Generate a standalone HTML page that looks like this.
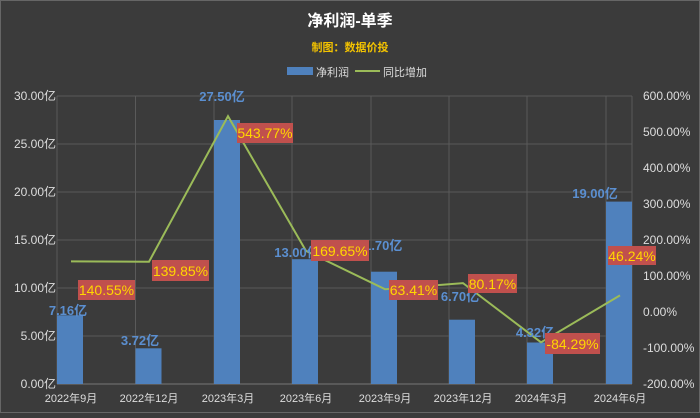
<!DOCTYPE html><html><head><meta charset="utf-8"><style>body{margin:0;background:#3b3b3b}</style></head><body>
<svg width="700" height="413" xmlns="http://www.w3.org/2000/svg" style="font-family:'Liberation Sans','Noto Sans CJK SC',sans-serif">
<rect x="0.5" y="0.5" width="699" height="412" fill="#3b3b3b" stroke="#666"/>
<text x="350" y="26" fill="#fff" font-size="16" font-weight="bold" text-anchor="middle">净利润-单季</text>
<text x="350" y="51" fill="#f2c200" font-size="11" font-weight="bold" text-anchor="middle">制图：数据价投</text>
<rect x="287" y="67" width="26" height="8" fill="#4f81bd"/><text x="316" y="76" fill="#ddd" font-size="11">净利润</text>
<line x1="355" y1="71" x2="380" y2="71" stroke="#9bbb59" stroke-width="2"/><text x="383" y="76" fill="#ddd" font-size="11">同比增加</text>
<g stroke="#5a5a5a" stroke-width="1">
<line x1="57" y1="96" x2="632" y2="96"/><line x1="57" y1="144" x2="632" y2="144"/><line x1="57" y1="192" x2="632" y2="192"/><line x1="57" y1="240" x2="632" y2="240"/><line x1="57" y1="288" x2="632" y2="288"/><line x1="57" y1="336" x2="632" y2="336"/>
<line x1="57" y1="96" x2="57" y2="384"/><line x1="135.5" y1="96" x2="135.5" y2="384"/><line x1="214" y1="96" x2="214" y2="384"/><line x1="292" y1="96" x2="292" y2="384"/><line x1="371" y1="96" x2="371" y2="384"/><line x1="449" y1="96" x2="449" y2="384"/><line x1="527" y1="96" x2="527" y2="384"/><line x1="606" y1="96" x2="606" y2="384"/><line x1="632" y1="96" x2="632" y2="384"/>
</g>
<line x1="57" y1="384" x2="632" y2="384" stroke="#777"/>
<g fill="#ddd" font-size="12" text-anchor="end">
<text x="56" y="100">30.00亿</text><text x="56" y="148">25.00亿</text><text x="56" y="196">20.00亿</text><text x="56" y="244">15.00亿</text><text x="56" y="292">10.00亿</text><text x="56" y="340">5.00亿</text><text x="56" y="388">0.00亿</text></g>
<g fill="#ddd" font-size="12">
<text x="643" y="100">600.00%</text><text x="643" y="136">500.00%</text><text x="643" y="172">400.00%</text><text x="643" y="208">300.00%</text><text x="643" y="244">200.00%</text><text x="643" y="280">100.00%</text><text x="643" y="316">0.00%</text><text x="643" y="352">-100.00%</text><text x="643" y="388">-200.00%</text></g>
<g fill="#ddd" font-size="11" text-anchor="middle">
<text x="71" y="402">2022年9月</text><text x="149" y="402">2022年12月</text><text x="228" y="402">2023年3月</text><text x="306" y="402">2023年6月</text><text x="385" y="402">2023年9月</text><text x="463" y="402">2023年12月</text><text x="541" y="402">2024年3月</text><text x="620" y="402">2024年6月</text></g>
<g fill="#4f81bd">
<rect x="57" y="315.3" width="26" height="68.7"/><rect x="135.5" y="348.3" width="26" height="35.7"/><rect x="214" y="120" width="26" height="264"/><rect x="292" y="259.2" width="26" height="124.8"/><rect x="371" y="271.7" width="26" height="112.3"/><rect x="449" y="319.7" width="26" height="64.3"/><rect x="527" y="342.5" width="26" height="41.5"/><rect x="606" y="201.6" width="26" height="182.4"/></g>
<polyline fill="none" stroke="#9bbb59" stroke-width="2" points="71,261.4 149,261.7 228,116.2 306,250.9 385,289.2 463,283.1 541,342.3 620,295.4"/>
<g fill="#5b8fd0" font-size="13" font-weight="bold" text-anchor="middle">
<text x="68" y="315">7.16亿</text><text x="140" y="345">3.72亿</text><text x="222" y="101">27.50亿</text><text x="297" y="257">13.00亿</text><text x="380" y="250">11.70亿</text><text x="460" y="301">6.70亿</text><text x="535" y="337">4.32亿</text><text x="595" y="198">19.00亿</text></g>
<g fill="#c0504d">
<rect x="78" y="280" width="57" height="20"/><rect x="152" y="260" width="57" height="21"/><rect x="237" y="123" width="56" height="20"/><rect x="311" y="240" width="58" height="21"/><rect x="389" y="280" width="49" height="20"/><rect x="468" y="274" width="49" height="19"/><rect x="545" y="333" width="55" height="21"/><rect x="608" y="246" width="48" height="19"/></g>
<g fill="#ffd700" font-size="14" text-anchor="middle">
<text x="106.5" y="295">140.55%</text><text x="180.5" y="276">139.85%</text><text x="265" y="138">543.77%</text><text x="340" y="256">169.65%</text><text x="413.5" y="295">63.41%</text><text x="492.5" y="289">80.17%</text><text x="572.5" y="349">-84.29%</text><text x="632" y="261">46.24%</text></g>
</svg></body></html>
